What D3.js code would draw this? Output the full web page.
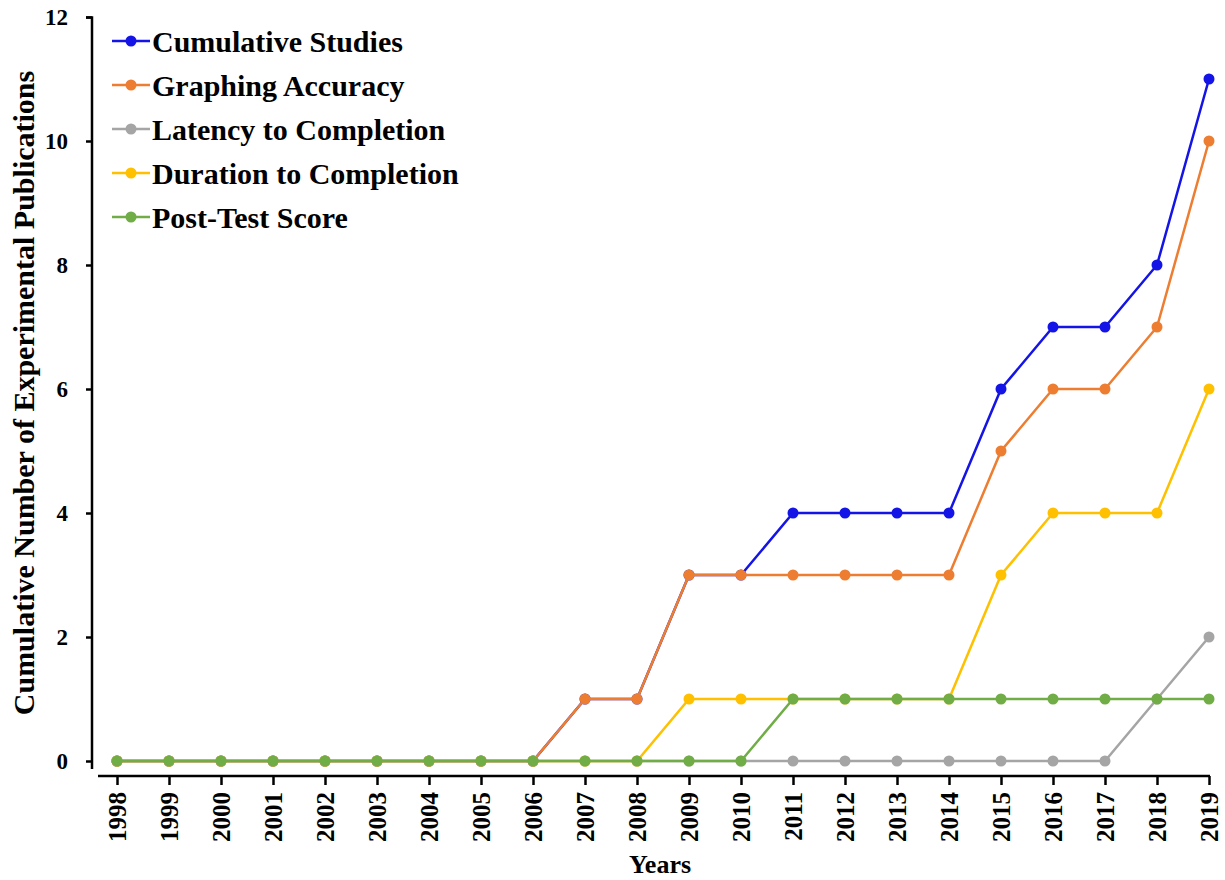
<!DOCTYPE html>
<html lang="en">
<head>
    <meta charset="UTF-8">
    <title>Cumulative Publications</title>
    <script src="https://cdnjs.cloudflare.com/ajax/libs/d3/7.8.5/d3.min.js"></script>
    <style>
        body {
            margin: 0;
            background: #fff;
        }
        svg text {
            font-family: "Liberation Serif", "Times New Roman", serif;
            font-weight: bold;
            fill: #000;
        }
    </style>
</head>
<body>
    <div id="chart"></div>
    <script>
        // Data
        const years = d3.range(1998, 2020);
        const seriesNames = ["Cumulative Studies", "Graphing Accuracy", "Latency to Completion", "Duration to Completion", "Post-Test Score"];
        const seriesColors = ["#1414e6", "#ed7d31", "#a5a5a5", "#ffc000", "#70ad47"];
        const cumulativeStudies   = [0,0,0,0,0,0,0,0,0,1,1,3,3,4,4,4,4,6,7,7,8,11];
        const graphingAccuracy    = [0,0,0,0,0,0,0,0,0,1,1,3,3,3,3,3,3,5,6,6,7,10];
        const latencyCompletion   = [0,0,0,0,0,0,0,0,0,0,0,0,0,0,0,0,0,0,0,0,1,2];
        const durationCompletion  = [0,0,0,0,0,0,0,0,0,0,0,1,1,1,1,1,1,3,4,4,4,6];
        const postTestScore       = [0,0,0,0,0,0,0,0,0,0,0,0,0,1,1,1,1,1,1,1,1,1];
        const yTicks = [0, 2, 4, 6, 8, 10, 12];

        const series = [cumulativeStudies, graphingAccuracy, latencyCompletion, durationCompletion, postTestScore]
            .map((vals, i) => ({ name: seriesNames[i], color: seriesColors[i], values: vals }));

        const width = 1225, height = 880;

        const svg = d3.select("#chart")
            .append("svg")
            .attr("width", width)
            .attr("height", height);

        const x = d3.scalePoint()
            .domain(years)
            .range([117, 1209]);

        const y = d3.scaleLinear()
            .domain([0, 12])
            .range([761, 17]);

        // Y axis
        const yAxis = svg.append("g")
            .attr("transform", "translate(92,0)")
            .call(d3.axisLeft(y).tickValues(yTicks).tickSize(6).tickPadding(18));
        yAxis.select(".domain").attr("d", "M-6,17.5H0V769");
        yAxis.selectAll("line, path").attr("stroke", "#000").attr("stroke-width", 2.5);
        yAxis.selectAll("text").style("font-size", "23px");

        // X axis
        const xAxis = svg.append("g")
            .attr("transform", "translate(0,776)")
            .call(d3.axisBottom(x).tickSize(9).tickSizeOuter(0).tickFormat(d3.format("d")));
        xAxis.select(".domain").attr("d", "M98,0H1210");
        xAxis.selectAll("line, path").attr("stroke", "#000").attr("stroke-width", 2.5);
        xAxis.selectAll("text")
            .style("font-size", "25px")
            .attr("transform", "rotate(-90)")
            .attr("text-anchor", "end")
            .attr("x", -16)
            .attr("y", 0)
            .attr("dy", "0.35em");

        // Axis titles
        svg.append("text")
            .attr("transform", "translate(34,393) rotate(-90)")
            .attr("text-anchor", "middle")
            .style("font-size", "30px")
            .text("Cumulative Number of Experimental Publications");

        svg.append("text")
            .attr("x", 660)
            .attr("y", 873)
            .attr("text-anchor", "middle")
            .style("font-size", "26px")
            .text("Years");

        // Lines
        const line = d3.line()
            .x((d, i) => x(years[i]))
            .y(d => y(d));

        series.forEach(s => {
            const g = svg.append("g");
            g.append("path")
                .datum(s.values)
                .attr("d", line)
                .attr("fill", "none")
                .attr("stroke", s.color)
                .attr("stroke-width", 2.5);
            g.selectAll("circle")
                .data(s.values)
                .join("circle")
                .attr("cx", (d, i) => x(years[i]))
                .attr("cy", d => y(d))
                .attr("r", 5.5)
                .attr("fill", s.color);
        });

        // Legend
        const legend = svg.append("g");
        series.forEach((s, i) => {
            const ly = 41 + i * 44;
            legend.append("line")
                .attr("x1", 112).attr("x2", 150)
                .attr("y1", ly).attr("y2", ly)
                .attr("stroke", s.color)
                .attr("stroke-width", 2.5);
            legend.append("circle")
                .attr("cx", 131).attr("cy", ly)
                .attr("r", 5.5)
                .attr("fill", s.color);
            legend.append("text")
                .attr("x", 152)
                .attr("y", ly)
                .attr("dy", "0.35em")
                .style("font-size", "30px")
                .text(s.name);
        });
    </script>
</body>
</html>
